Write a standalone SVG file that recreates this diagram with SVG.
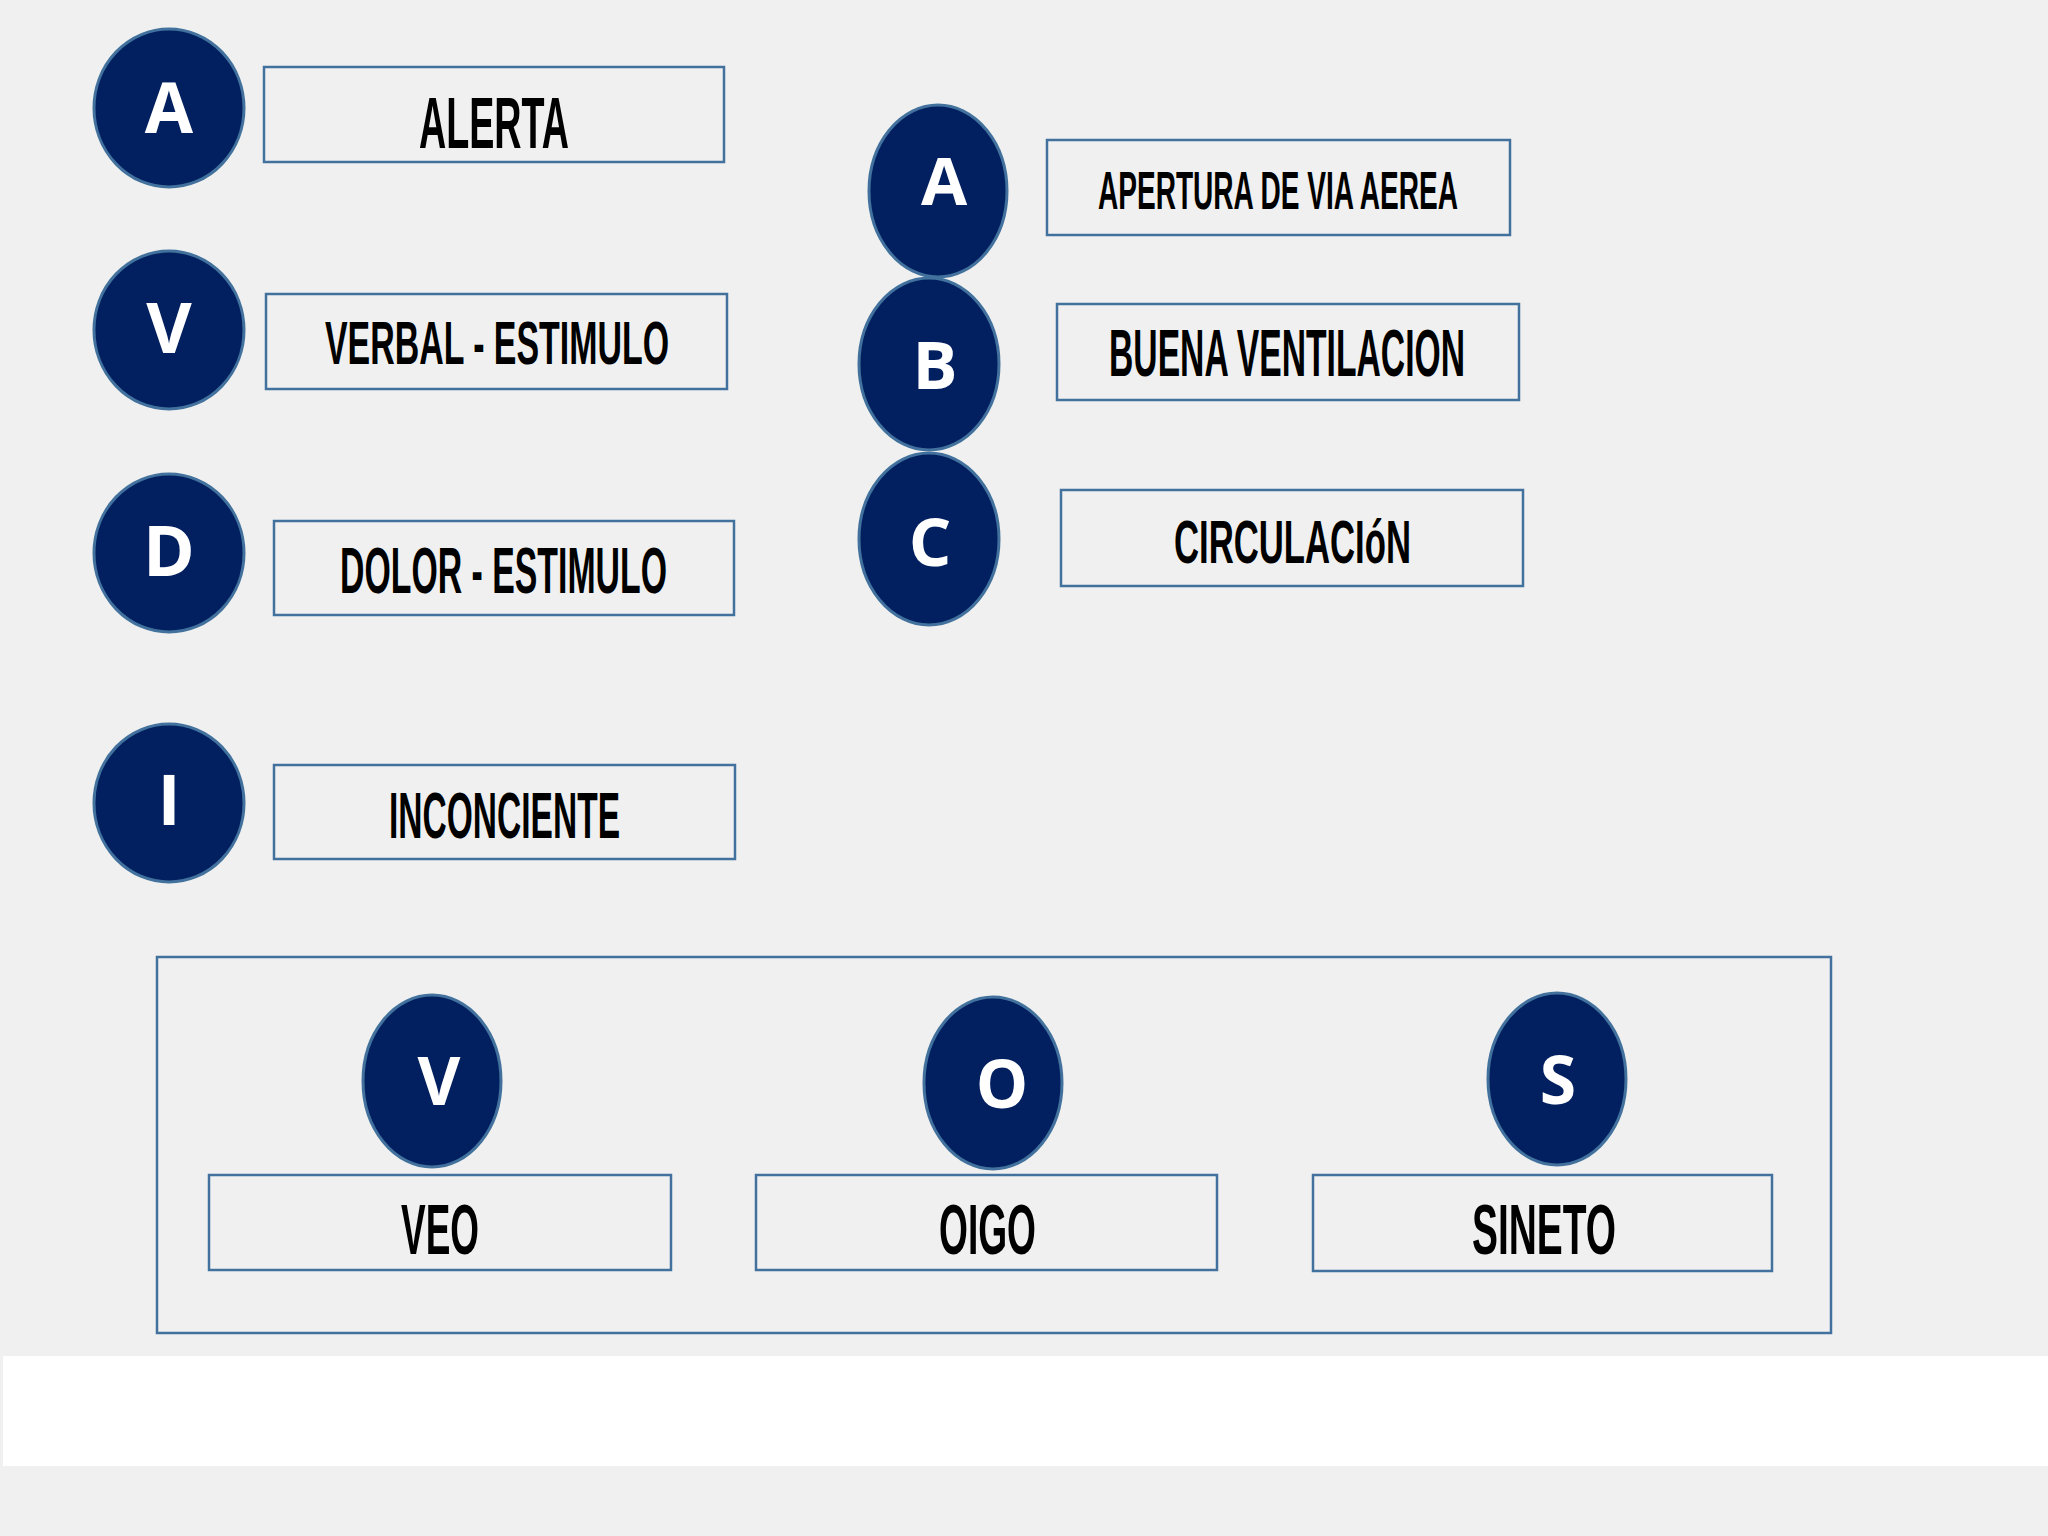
<svg xmlns="http://www.w3.org/2000/svg" width="2048" height="1536" viewBox="0 0 2048 1536">
<style>
.c{fill:#022060;stroke:#41719c;stroke-width:3}
.b{fill:none;stroke:#41719c;stroke-width:2.5}
.l{font-family:"Open Sans","Liberation Sans",sans-serif;font-weight:700;fill:#ffffff;text-anchor:middle}
.t{font-family:"Liberation Sans","DejaVu Sans",sans-serif;font-weight:700;fill:#000000}
</style>
<rect x="0" y="0" width="2048" height="1536" fill="#f0f0f0"/>
<rect x="3" y="1356" width="2045" height="110" fill="#ffffff"/>
<g id="left-A"><ellipse class="c" cx="169" cy="108" rx="75" ry="79"/><text class="l" x="169" y="133" font-size="70">A</text></g>
<g id="box-alerta"><rect class="b" x="264" y="67" width="460" height="95"/><text class="t" x="419" y="148" font-size="72" textLength="150" lengthAdjust="spacingAndGlyphs">ALERTA</text></g>
<g id="left-V"><ellipse class="c" cx="169" cy="330" rx="75" ry="79"/><text class="l" x="169" y="353" font-size="70">V</text></g>
<g id="box-verbal"><rect class="b" x="266" y="294" width="461" height="95"/><text class="t" x="325" y="364" font-size="62" textLength="344" lengthAdjust="spacingAndGlyphs">VERBAL - ESTIMULO</text></g>
<g id="left-D"><ellipse class="c" cx="169" cy="553" rx="75" ry="79"/><text class="l" x="169" y="576" font-size="70">D</text></g>
<g id="box-dolor"><rect class="b" x="274" y="521" width="460" height="94"/><text class="t" x="340" y="593" font-size="64" textLength="327" lengthAdjust="spacingAndGlyphs">DOLOR - ESTIMULO</text></g>
<g id="left-I"><ellipse class="c" cx="169" cy="803" rx="75" ry="79"/><text class="l" x="169" y="825" font-size="70">I</text></g>
<g id="box-inconciente"><rect class="b" x="274" y="765" width="461" height="94"/><text class="t" x="389" y="838" font-size="64" textLength="231" lengthAdjust="spacingAndGlyphs">INCONCIENTE</text></g>
<g id="right-A"><ellipse class="c" cx="938" cy="191" rx="69" ry="86"/><text class="l" x="944" y="205" font-size="67">A</text></g>
<g id="box-apertura"><rect class="b" x="1047" y="140" width="463" height="95"/><text class="t" x="1098" y="209" font-size="54" textLength="360" lengthAdjust="spacingAndGlyphs">APERTURA DE VIA AEREA</text></g>
<g id="right-B"><ellipse class="c" cx="929" cy="364" rx="70" ry="86"/><text class="l" x="935" y="389" font-size="67">B</text></g>
<g id="box-buena"><rect class="b" x="1057" y="304" width="462" height="96"/><text class="t" x="1109" y="376" font-size="66" textLength="356" lengthAdjust="spacingAndGlyphs">BUENA VENTILACION</text></g>
<g id="right-C"><ellipse class="c" cx="929" cy="539" rx="70" ry="86"/><text class="l" x="930" y="566" font-size="67">C</text></g>
<g id="box-circulacion"><rect class="b" x="1061" y="490" width="462" height="96"/><text class="t" x="1174" y="563" font-size="62" textLength="237" lengthAdjust="spacingAndGlyphs">CIRCULACIóN</text></g>
<g id="vos-frame"><rect class="b" x="157" y="957" width="1674" height="376" stroke-width="3.5"/></g>
<g id="bottom-V"><ellipse class="c" cx="432" cy="1081" rx="69" ry="86"/><text class="l" x="439" y="1105" font-size="66">V</text></g>
<g id="box-veo"><rect class="b" x="209" y="1175" width="462" height="95"/><text class="t" x="401" y="1254" font-size="71" textLength="78" lengthAdjust="spacingAndGlyphs">VEO</text></g>
<g id="bottom-O"><ellipse class="c" cx="993" cy="1083" rx="69" ry="86"/><text class="l" x="1002" y="1108" font-size="66">O</text></g>
<g id="box-oigo"><rect class="b" x="756" y="1175" width="461" height="95"/><text class="t" x="939" y="1254" font-size="71" textLength="97" lengthAdjust="spacingAndGlyphs">OIGO</text></g>
<g id="bottom-S"><ellipse class="c" cx="1557" cy="1079" rx="69" ry="86"/><text class="l" x="1558" y="1104" font-size="66">S</text></g>
<g id="box-sineto"><rect class="b" x="1313" y="1175" width="459" height="96"/><text class="t" x="1472" y="1254" font-size="71" textLength="144" lengthAdjust="spacingAndGlyphs">SINETO</text></g>
<g id="connectors"></g>
</svg>
